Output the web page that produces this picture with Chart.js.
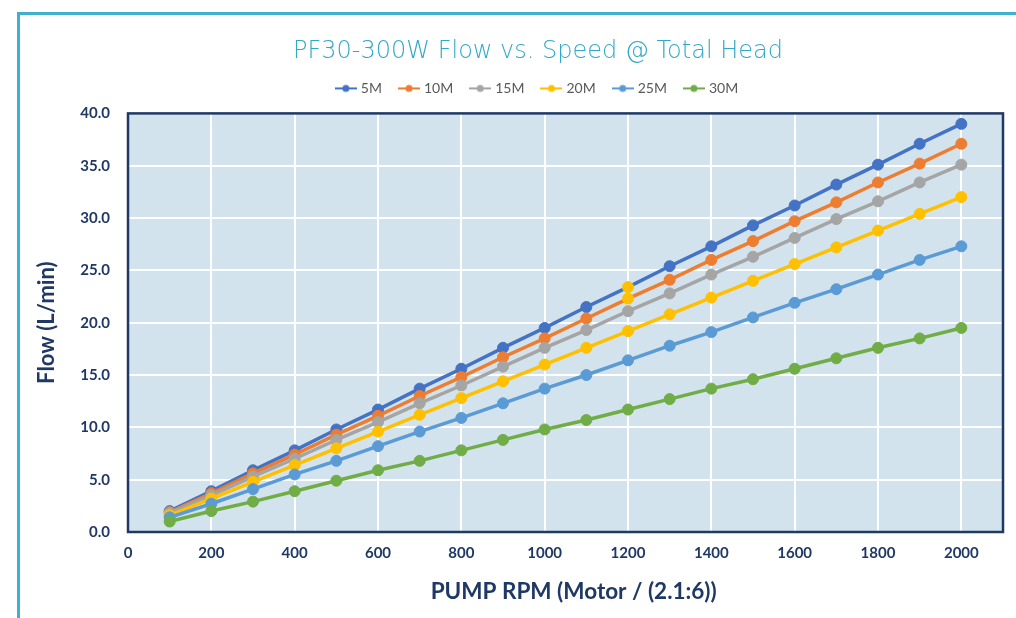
<!DOCTYPE html>
<html lang="en">
<head>
    <meta charset="UTF-8">
    <title>PF30-300W Flow vs. Speed @ Total Head</title>
    <script src="https://cdn.jsdelivr.net/npm/chart.js"></script>
    <style>
        html, body { margin: 0; padding: 0; background: #ffffff; overflow: hidden; }
        #frame {
            position: absolute; left: 17px; top: 12px;
            width: 1036px; height: 603px;
            border-top: 3px solid #40afd0; border-left: 3px solid #40afd0;
        }
    </style>
</head>
<body>
    <div id="frame"><canvas id="flowChart" width="1036" height="603"></canvas></div>
    <script>
        // pump speed (rpm) and flow (L/min) per total head
        const rpm = [100, 200, 300, 400, 500, 600, 700, 800, 900, 1000,
                     1100, 1200, 1300, 1400, 1500, 1600, 1700, 1800, 1900, 2000];
        const head5 = [2.0, 3.9, 5.9, 7.8, 9.8, 11.7, 13.7, 15.6, 17.6, 19.5,
                       21.5, 23.4, 25.4, 27.3, 29.3, 31.2, 33.2, 35.1, 37.1, 39.0];
        const head10 = [1.9, 3.7, 5.6, 7.4, 9.3, 11.1, 13.0, 14.8, 16.7, 18.5,
                        20.4, 22.3, 24.1, 26.0, 27.8, 29.7, 31.5, 33.4, 35.2, 37.1];
        const head15 = [1.8, 3.5, 5.3, 7.0, 8.8, 10.5, 12.3, 14.0, 15.8, 17.6,
                        19.3, 21.1, 22.8, 24.6, 26.3, 28.1, 29.9, 31.6, 33.4, 35.1];
        const head20 = [1.6, 3.2, 4.8, 6.4, 8.0, 9.6, 11.2, 12.8, 14.4, 16.0,
                        17.6, 19.2, 20.8, 22.4, 24.0, 25.6, 27.2, 28.8, 30.4, 32.0];
        const head25 = [1.4, 2.7, 4.1, 5.5, 6.8, 8.2, 9.6, 10.9, 12.3, 13.7,
                        15.0, 16.4, 17.8, 19.1, 20.5, 21.9, 23.2, 24.6, 26.0, 27.3];
        const head30 = [1.0, 2.0, 2.9, 3.9, 4.9, 5.9, 6.8, 7.8, 8.8, 9.8,
                        10.7, 11.7, 12.7, 13.7, 14.6, 15.6, 16.6, 17.6, 18.5, 19.5];
        const seriesNames = ['5M', '10M', '15M', '20M', '25M', '30M'];
        const seriesValues = [head5, head10, head15, head20, head25, head30];
        const colors = ['#4472c4', '#ed7d31', '#a5a5a5', '#ffc000', '#5b9bd5', '#70ad47'];

        const navy = '#1f3864';

        // legend marker: short line with a dot
        function legendMarker(color) {
            const c = document.createElement('canvas');
            c.width = 22; c.height = 10;
            const g = c.getContext('2d');
            g.strokeStyle = color; g.lineWidth = 2;
            g.beginPath(); g.moveTo(0, 5); g.lineTo(22, 5); g.stroke();
            g.fillStyle = color;
            g.beginPath(); g.arc(11, 5, 3.5, 0, Math.PI * 2); g.fill();
            return c;
        }

        // odd yellow marker at 1200 rpm on the top two curves
        function pointColors(i) {
            const base = colors[i];
            return rpm.map(r => (r === 1200 && i < 2) ? colors[3] : base);
        }

        const datasets = seriesNames.map((name, i) => ({
            label: name,
            data: rpm.map((r, k) => ({ x: r, y: seriesValues[i][k] })),
            borderColor: colors[i],
            backgroundColor: colors[i],
            pointBackgroundColor: pointColors(i),
            pointBorderColor: pointColors(i),
            borderWidth: 3.5,
            pointRadius: 5.5,
            pointBorderWidth: 1,
            tension: 0,
            order: seriesNames.length - i
        }));

        const plotFrame = {
            id: 'plotFrame',
            beforeDraw(chart) {
                const a = chart.chartArea, ctx = chart.ctx;
                ctx.save();
                ctx.fillStyle = '#d3e3ed';
                ctx.fillRect(a.left, a.top, a.right - a.left, a.bottom - a.top);
                ctx.restore();
            },
            afterDraw(chart) {
                const a = chart.chartArea, ctx = chart.ctx;
                ctx.save();
                ctx.strokeStyle = navy;
                ctx.lineWidth = 2.5;
                ctx.strokeRect(a.left, a.top, a.right - a.left, a.bottom - a.top);
                ctx.restore();
            }
        };

        new Chart(document.getElementById('flowChart'), {
            type: 'line',
            data: { datasets },
            plugins: [plotFrame],
            options: {
                responsive: false,
                animation: false,
                layout: { padding: { left: 6, right: 6, top: 0, bottom: 6 } },
                plugins: {
                    title: {
                        display: true,
                        text: 'PF30-300W Flow vs. Speed @ Total Head',
                        color: '#31a9c6',
                        font: { family: 'DejaVu Sans', size: 24, weight: '200', lineHeight: 1.2 },
                        padding: { top: 22, bottom: -3.4 }
                    },
                    // empty spacer between legend and plot
                    subtitle: {
                        display: true,
                        text: '',
                        weight: 500,
                        font: { size: 1, lineHeight: 1 },
                        padding: { top: 0, bottom: 7 }
                    },
                    legend: {
                        labels: {
                            usePointStyle: true,
                            pointStyleWidth: 16,
                            padding: 19,
                            color: '#595959',
                            font: { family: 'Lato', size: 14 },
                            generateLabels: chart => chart.data.datasets.map((ds, i) => ({
                                text: ds.label,
                                pointStyle: legendMarker(colors[i]),
                                fillStyle: colors[i],
                                strokeStyle: colors[i],
                                lineWidth: 0,
                                fontColor: '#595959',
                                datasetIndex: i,
                                hidden: false
                            }))
                        }
                    },
                    tooltip: { enabled: false }
                },
                scales: {
                    x: {
                        type: 'linear',
                        min: 0, max: 2100,
                        afterFit: s => { s.height = 80; },
                        ticks: {
                            stepSize: 200, includeBounds: false, padding: 12,
                            color: navy, font: { family: 'Lato', size: 15, weight: 'bold' },
                            callback: v => String(v)
                        },
                        grid: { color: '#ffffff', lineWidth: 2, drawTicks: false },
                        border: { display: false },
                        title: {
                            display: true,
                            text: '   PUMP RPM (Motor / (2.1:6))',
                            color: navy,
                            font: { family: 'Lato', size: 22.5, weight: 'bold', lineHeight: 1.2 },
                            padding: 7
                        }
                    },
                    y: {
                        min: 0, max: 40,
                        afterFit: s => { s.width = 102; },
                        ticks: {
                            stepSize: 5, padding: 18,
                            color: navy, font: { family: 'Lato', size: 15, weight: 'bold' },
                            callback: v => v.toFixed(1)
                        },
                        grid: { color: '#ffffff', lineWidth: 2, drawTicks: false },
                        border: { display: false },
                        title: {
                            display: true,
                            text: 'Flow (L/min)',
                            color: navy,
                            font: { family: 'Lato', size: 22, weight: 'bold', lineHeight: 1.2 },
                            padding: 8
                        }
                    },
                    // empty right-hand margin so the title stays centred on the frame
                    yRight: {
                        position: 'right',
                        afterFit: s => { s.width = 47; },
                        ticks: { display: false },
                        grid: { display: false },
                        border: { display: false }
                    }
                }
            }
        });
    </script>
</body>
</html>
